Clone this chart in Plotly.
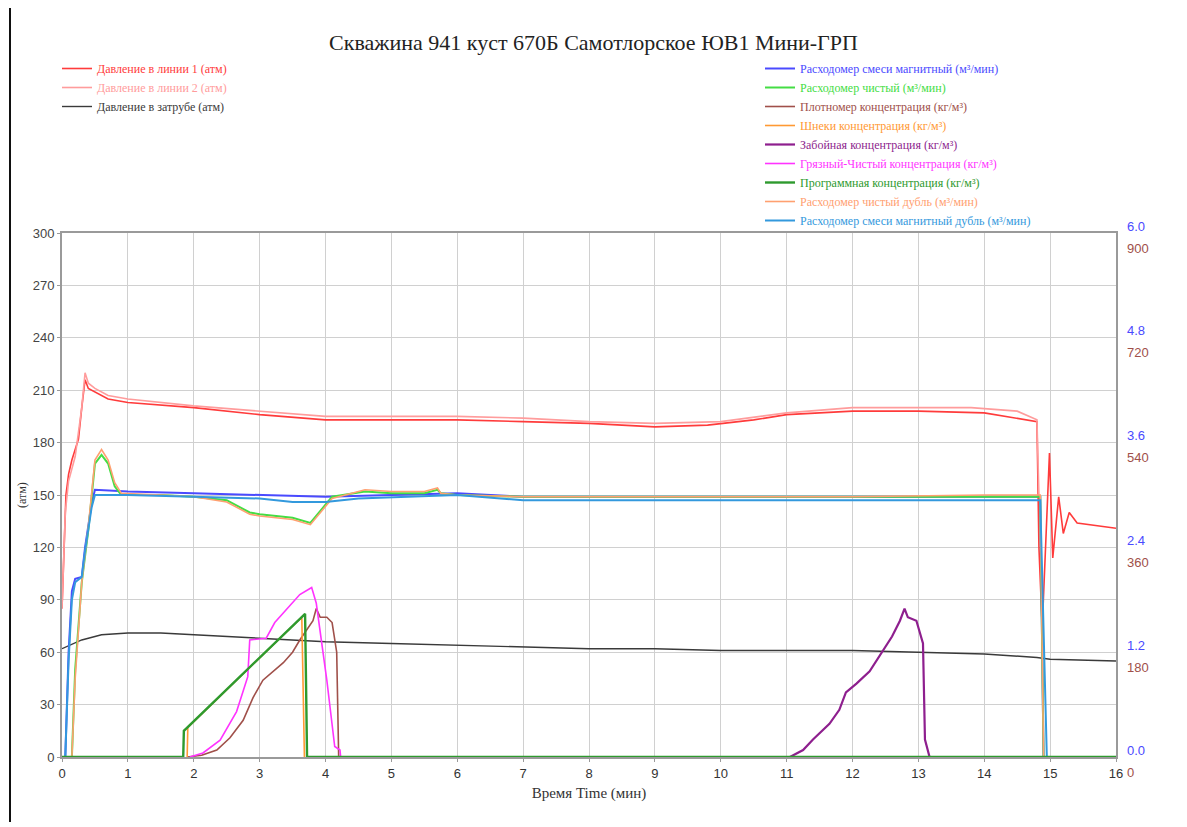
import plotly.graph_objects as go

# ---------------- data ----------------
# Pressure (атм), left axis
p1_t = [0, 0.03, 0.06, 0.1, 0.15, 0.2, 0.25, 0.3, 0.35, 0.4, 0.5, 0.7, 1, 2, 3, 4, 5, 6, 7, 8, 9, 9.8, 10.5, 11, 12, 13, 14, 14.8, 14.83, 14.88, 14.99, 15.04, 15.13, 15.2, 15.29, 15.41, 16]
p1_v = [85, 120, 150, 162, 170, 176, 182, 200, 216, 211, 209, 205, 203, 200, 196, 193, 193, 193, 192, 191, 189, 190, 193, 196, 198, 198, 197, 192, 120, 74, 174, 114, 149, 128, 140, 134, 131]

p2_t = [0, 0.05, 0.1, 0.2, 0.3, 0.35, 0.4, 0.5, 0.7, 1, 2, 3, 4, 5, 6, 7, 8, 9, 10, 11, 12, 13, 13.8, 14.5, 14.8, 14.83]
p2_v = [85, 140, 158, 172, 200, 220, 214, 211, 207, 205, 201, 198, 195, 195, 195, 194, 192, 191, 192, 197, 200, 200, 200, 198, 193, 150]

ann_t = [0, 0.3, 0.6, 1, 1.5, 2, 3, 4, 5, 6, 7, 8, 9, 10, 11, 12, 13, 14, 14.8, 15, 16]
ann_v = [62, 67, 70, 71, 71, 70, 68, 66, 65, 64, 63, 62, 62, 61, 61, 61, 60, 59, 57, 56, 55]

# Flow rates (м³/мин), blue right axis
flow_t = [0, 0.05, 0.1, 0.15, 0.2, 0.3, 0.35, 0.45, 0.5, 1, 2, 3, 4, 5, 6, 7, 8, 10, 12, 14, 14.85, 14.9]
flow_v = [0, 0, 1.2, 1.9, 2.04, 2.06, 2.4, 2.9, 3.06, 3.04, 3.02, 3.0, 2.98, 3.0, 3.02, 2.98, 2.98, 2.98, 2.98, 2.98, 2.98, 0]

flow2_t = [0, 0.05, 0.1, 0.15, 0.2, 0.3, 0.35, 0.45, 0.5, 1, 2, 3, 3.5, 4, 4.5, 6, 7, 8, 10, 12, 14, 14.85, 14.95, 16]
flow2_v = [0, 0, 1.1, 1.8, 2.0, 2.06, 2.36, 2.86, 3.0, 3.0, 2.98, 2.96, 2.92, 2.92, 2.96, 3.0, 2.94, 2.94, 2.94, 2.94, 2.94, 2.94, 0, 0]

clean_t = [0, 0.15, 0.2, 0.3, 0.4, 0.5, 0.6, 0.7, 0.8, 0.9, 1.5, 2, 2.5, 2.6, 2.85, 3.0, 3.5, 3.77, 3.92, 4.1, 4.6, 5, 5.5, 5.7, 5.75, 6, 7, 8, 10, 12, 14, 14.85, 14.9]
clean_v = [0, 0, 1.0, 2.0, 2.6, 3.36, 3.46, 3.36, 3.1, 3.0, 3.0, 2.98, 2.94, 2.9, 2.8, 2.78, 2.74, 2.68, 2.82, 2.98, 3.04, 3.02, 3.02, 3.06, 3.02, 3.0, 2.98, 2.98, 2.98, 2.98, 2.98, 2.98, 0]
clean2_v = [0, 0, 0.9, 2.0, 2.64, 3.4, 3.52, 3.4, 3.14, 3.02, 3.0, 2.98, 2.92, 2.88, 2.78, 2.76, 2.72, 2.66, 2.8, 2.96, 3.06, 3.04, 3.04, 3.08, 3.02, 3.0, 2.98, 2.98, 2.98, 2.98, 3.0, 3.0, 0]

# Concentrations (кг/м³), brown right axis
prog_t = [0, 1.84, 1.85, 3.69, 3.72, 16]
prog_v = [0, 0, 45, 246, 0, 0]

auger_t = [1.9, 1.91, 3.64, 3.68]
auger_v = [0, 51, 240, 0]

dirty_t = [1.94, 2.14, 2.4, 2.65, 2.82, 2.85, 3.1, 3.23, 3.61, 3.79, 3.86, 4.02, 4.14, 4.22, 4.23]
dirty_v = [0, 7, 29, 78, 138, 201, 204, 231, 279, 291, 264, 132, 18, 12, 0]

dens_t = [1.9, 2.12, 2.35, 2.55, 2.75, 2.9, 3.05, 3.2, 3.36, 3.5, 3.61, 3.81, 3.86, 3.92, 4.02, 4.1, 4.17, 4.2]
dens_v = [0, 3, 12, 33, 63, 102, 132, 147, 162, 180, 201, 234, 255, 240, 240, 231, 180, 0]

bh_t = [10.9, 11.05, 11.25, 11.4, 11.65, 11.8, 11.9, 12.06, 12.26, 12.46, 12.6, 12.72, 12.79, 12.84, 12.97, 13.07, 13.1, 13.17]
bh_v = [0, 0, 12, 30, 57, 81, 111, 126, 147, 183, 207, 234, 255, 240, 234, 195, 30, 0]

x_ticks = list(range(0, 17))
left_ticks = list(range(0, 301, 30))
flow_ticks = [0.0, 1.2, 2.4, 3.6, 4.8, 6.0]
conc_ticks = [0, 180, 360, 540, 720, 900]

TITLE = "Скважина 941 куст 670Б Самотлорское ЮВ1 Мини-ГРП"
SERIF = "Liberation Serif"
SANS = "Liberation Sans, Arial, sans-serif"


def nm(text, color):
    return f"<span style='color:{color}'>{text}</span>"


fig = go.Figure()

right = [
    (flow_t, flow_v, "y2", "#4a4aff", 2, "Расходомер смеси магнитный (м³/мин)"),
    (clean_t, clean_v, "y2", "#44dd44", 2, "Расходомер чистый (м³/мин)"),
    (dens_t, dens_v, "y3", "#a0504a", 1.6, "Плотномер концентрация (кг/м³)"),
    (auger_t, auger_v, "y3", "#ff9933", 1.6, "Шнеки концентрация (кг/м³)"),
    (bh_t, bh_v, "y3", "#8e1f8e", 2.2, "Забойная концентрация (кг/м³)"),
    (dirty_t, dirty_v, "y3", "#ff33ff", 1.6, "Грязный-Чистый концентрация (кг/м³)"),
    (prog_t, prog_v, "y3", "#2e9a2e", 2.4, "Программная концентрация (кг/м³)"),
    (clean_t, clean2_v, "y2", "#ffa070", 1.6, "Расходомер чистый дубль (м³/мин)"),
    (flow2_t, flow2_v, "y2", "#3399dd", 2, "Расходомер смеси магнитный дубль (м³/мин)"),
]
left = [
    (p1_t, p1_v, "y", "#ff3b3b", 1.6, "Давление в линии 1 (атм)"),
    (p2_t, p2_v, "y", "#ff9c9c", 1.6, "Давление в линии 2 (атм)"),
    (ann_t, ann_v, "y", "#3a3a3a", 1.4, "Давление в затрубе (атм)"),
]

for t, v, ax, col, w, name in right:
    fig.add_trace(go.Scatter(x=t, y=v, yaxis=ax, mode="lines", line=dict(color=col, width=w),
                             name=nm(name, col), legend="legend2"))
for t, v, ax, col, w, name in left:
    fig.add_trace(go.Scatter(x=t, y=v, yaxis=ax, mode="lines", line=dict(color=col, width=w),
                             name=nm(name, col), legend="legend"))

axis_common = dict(showgrid=True, gridcolor="#d0d0d0", gridwidth=1, zeroline=False)

fig.update_layout(
    width=1187, height=827,
    paper_bgcolor="white", plot_bgcolor="white",
    margin=dict(l=62, r=71, t=233, b=70, autoexpand=False),
    title=dict(text=TITLE, x=0.5, xanchor="center", y=1 - 42 / 827, yanchor="middle",
               yref="container", font=dict(family=SERIF, size=22, color="#222")),
    xaxis=dict(range=[0, 16], tickvals=x_ticks, **axis_common, showline=True, mirror=True,
               linecolor="#9a9a9a", linewidth=2, ticks="outside", ticklen=3, tickcolor="#9a9a9a",
               tickfont=dict(family=SANS, size=13, color="#333"),
               title=dict(text="Время Time (мин)", standoff=8,
                          font=dict(family=SERIF, size=15, color="#333"))),
    yaxis=dict(range=[0, 300], tickvals=left_ticks, **axis_common, showline=True, mirror=True,
               linecolor="#9a9a9a", linewidth=2, ticks="outside", ticklen=3, tickcolor="#9a9a9a",
               tickfont=dict(family=SANS, size=13, color="#444")),
    yaxis2=dict(range=[0, 6], tickvals=flow_ticks, ticktext=[f"{v:.1f}" for v in flow_ticks],
                overlaying="y", side="right", anchor="x", showgrid=False, zeroline=False,
                showline=False, ticks="", ticklabelshift=-7, ticklabelstandoff=10,
                tickfont=dict(family=SANS, size=13, color="#4a4aff")),
    yaxis3=dict(range=[0, 900], tickvals=conc_ticks, ticktext=[str(v) for v in conc_ticks],
                overlaying="y", side="right", anchor="x", showgrid=False, zeroline=False,
                showline=False, ticks="", ticklabelshift=15, ticklabelstandoff=10,
                tickfont=dict(family=SANS, size=13, color="#a0504a")),
    legend=dict(x=57 / 1187, xref="container", y=1 - 54 / 827, yref="container",
                xanchor="left", yanchor="top", bgcolor="rgba(0,0,0,0)",
                font=dict(family=SERIF, size=12), tracegroupgap=0),
    legend2=dict(x=760 / 1187, xref="container", y=1 - 54 / 827, yref="container",
                 xanchor="left", yanchor="top", bgcolor="rgba(0,0,0,0)",
                 font=dict(family=SERIF, size=12), tracegroupgap=0),
    showlegend=True,
)

# y-axis title as an annotation
fig.add_annotation(text="(атм)", xref="paper", yref="paper", x=-40 / 1054, y=0.5,
                   xanchor="center", yanchor="middle", textangle=-90, showarrow=False,
                   font=dict(family=SERIF, size=12, color="#333"))

# outer frame of the picture (left edge)
fig.add_shape(type="line", xref="paper", yref="paper", x0=-52 / 1054, x1=-52 / 1054,
              y0=-65 / 524, y1=1 + 225 / 524, line=dict(color="#111", width=2))

fig.write_html("out.html")
